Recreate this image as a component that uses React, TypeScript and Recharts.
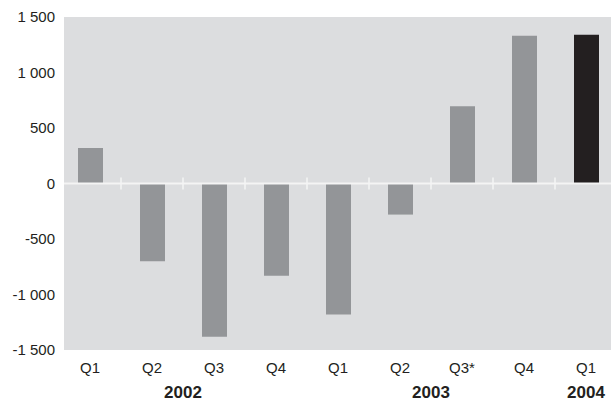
import { BarChart, Bar, XAxis, YAxis, CartesianGrid, ReferenceLine, Cell } from 'recharts';

const quarters = ['Q1', 'Q2', 'Q3', 'Q4', 'Q1', 'Q2', 'Q3*', 'Q4', 'Q1'];
const years = ['2002', '2002', '2002', '2002', '2003', '2003', '2003', '2003', '2004'];
const values = [320, -700, -1380, -830, -1180, -280, 695, 1330, 1340];
const yTicks = [-1500, -1000, -500, 0, 500, 1000, 1500];

const data = quarters.map((q, i) => ({ key: i, mid: i + 0.5, quarter: q, year: years[i], value: values[i] }));

// centre of each year's group of quarters, on a 0..n scale
const yearNames = Array.from(new Set(years));
const yearCenters = yearNames.map((y) => {
  const first = years.indexOf(y);
  const last = years.lastIndexOf(y);
  return (first + last + 1) / 2;
});
const boundaries = quarters.slice(1).map((_, i) => i + 1);

const fmt = (v: number) => {
  const s = Math.abs(v).toString().replace(/\B(?=(\d{3})+(?!\d))/g, ' ');
  return (v < 0 ? '-' : '') + s;
};

const font = 'Liberation Sans, Arial, Helvetica, sans-serif';

export default function App() {
  return (
    <div style={{ position: 'absolute', left: 0, top: 0, width: 611, height: 401, overflow: 'hidden', background: '#fff' }}>
      <BarChart width={611} height={401} data={data} margin={{ top: 17, right: 0, bottom: 0, left: 0 }} barSize={25}>
        <CartesianGrid horizontal={false} vertical={false} fill="#dcdddf" />
        <XAxis
          dataKey="key"
          type="category"
          tickFormatter={(i: number) => quarters[i]}
          axisLine={false}
          tickLine={false}
          tickSize={0}
          tickMargin={12}
          height={26}
          padding={{ left: -5, right: -6 }}
          interval={0}
          tick={{ fill: '#231f20', fontSize: 15, fontFamily: font }}
        />
        <XAxis
          xAxisId="num"
          dataKey="mid"
          type="number"
          domain={[0, quarters.length]}
          ticks={yearCenters}
          tickFormatter={(v: number) => yearNames[yearCenters.indexOf(v)]}
          axisLine={false}
          tickLine={false}
          tickSize={0}
          tickMargin={10}
          height={25}
          padding={{ left: -5, right: -6 }}
          interval={0}
          allowDataOverflow
          tick={{ fill: '#231f20', fontSize: 17, fontWeight: 'bold', fontFamily: font }}
        />
        <YAxis
          domain={[-1500, 1500]}
          ticks={yTicks}
          tickFormatter={fmt}
          axisLine={false}
          tickLine={false}
          tickSize={0}
          tickMargin={9}
          width={64}
          interval={0}
          tick={{ fill: '#231f20', fontSize: 15, fontFamily: font }}
        />
        <Bar dataKey="value" isAnimationActive={false}>
          {data.map((d, i) => (
            <Cell key={d.key} fill={i === data.length - 1 ? '#231f20' : '#939598'} />
          ))}
        </Bar>
        <ReferenceLine y={0} stroke="#f4f4f4" strokeWidth={2} />
        {boundaries.map((b) => (
          <ReferenceLine
            key={b}
            xAxisId="num"
            segment={[{ x: b, y: -54 }, { x: b, y: 54 }]}
            stroke="#f4f4f4"
            strokeWidth={1.5}
          />
        ))}
      </BarChart>
    </div>
  );
}
